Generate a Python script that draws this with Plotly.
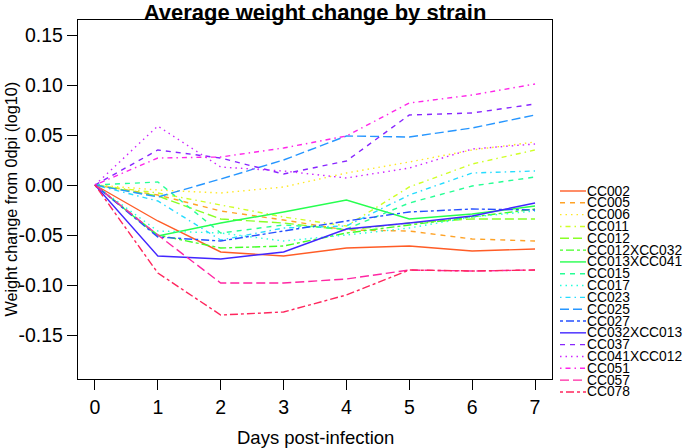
import colorsys
import plotly.graph_objects as go

days = [0, 1, 2, 3, 4, 5, 6, 7]
strains = ["CC002", "CC005", "CC006", "CC011", "CC012", "CC012XCC032", "CC013XCC041",
           "CC015", "CC017", "CC023", "CC025", "CC027", "CC032XCC013", "CC037",
           "CC041XCC012", "CC051", "CC057", "CC078"]

CC002 = [0, -0.036, -0.067, -0.071, -0.063, -0.061, -0.066, -0.064]
CC005 = [0, -0.010, -0.026, -0.035, -0.045, -0.046, -0.054, -0.056]
CC006 = [0, -0.005, -0.008, -0.002, 0.012, 0.023, 0.035, 0.043]
CC011 = [0, -0.008, -0.020, -0.032, -0.041, -0.002, 0.021, 0.035]
CC012 = [0, -0.011, -0.034, -0.038, -0.045, -0.038, -0.034, -0.034]
CC012XCC032 = [0, -0.050, -0.063, -0.061, -0.048, -0.040, -0.032, -0.024]
CC013XCC041 = [0, -0.051, -0.038, -0.027, -0.015, -0.034, -0.029, -0.021]
CC015 = [0, 0.003, -0.048, -0.040, -0.044, -0.018, -0.001, 0.008]
CC017 = [0, -0.046, -0.048, -0.056, -0.050, -0.043, -0.032, -0.026]
CC023 = [0, -0.016, -0.055, -0.043, -0.041, -0.010, 0.012, 0.014]
CC025 = [0, -0.012, 0.006, 0.025, 0.049, 0.048, 0.057, 0.070]
CC027 = [0, -0.052, -0.056, -0.046, -0.036, -0.027, -0.024, -0.025]
CC032XCC013 = [0, -0.071, -0.074, -0.067, -0.044, -0.038, -0.031, -0.018]
CC037 = [0, 0.035, 0.027, 0.011, 0.024, 0.070, 0.072, 0.081]
CC041XCC012 = [0, 0.059, 0.018, 0.014, 0.007, 0.017, 0.036, 0.041]
CC051 = [0, 0.027, 0.028, 0.037, 0.049, 0.082, 0.090, 0.101]
CC057 = [0, -0.050, -0.098, -0.098, -0.094, -0.085, -0.086, -0.085]
CC078 = [0, -0.088, -0.130, -0.127, -0.110, -0.085, -0.086, -0.085]

series = [CC002, CC005, CC006, CC011, CC012, CC012XCC032, CC013XCC041, CC015, CC017,
          CC023, CC025, CC027, CC032XCC013, CC037, CC041XCC012, CC051, CC057, CC078]

ytick_vals = [-0.15, -0.10, -0.05, 0.00, 0.05, 0.10, 0.15]
ytick_text = ["-0.15", "-0.10", "-0.05", "0.00", "0.05", "0.10", "0.15"]

# R-like line types cycling: solid, dashed, dotted, dotdash, longdash, twodash
dashes = ["solid", "5px,5px", "1.5px,4px", "1.5px,4px,5px,4px", "9px,4px", "3px,3px,8px,3px"]


def hsv_hex(h):
    r, g, b = colorsys.hsv_to_rgb(h % 1.0, 0.85, 1.0)
    return "#%02x%02x%02x" % (int(r * 255), int(g * 255), int(b * 255))


colors = [hsv_hex((15 + i * 19.4) / 360.0) for i in range(len(strains))]

font_family = "Liberation Sans, Arial, sans-serif"

fig = go.Figure()
for i, (name, vals) in enumerate(zip(strains, series)):
    fig.add_trace(go.Scatter(
        x=days, y=vals, mode="lines", name=name,
        line=dict(color=colors[i], width=1.4, dash=dashes[i % 6]),
        showlegend=False,
    ))

# Manual compact legend (R-style)
W, H = 685, 448
ml, mr, mt, mb = 78, 133, 20, 69
pw, ph = W - ml - mr, H - mt - mb
shapes = []
annotations = []
for i, name in enumerate(strains):
    py = 191 + i * 11.82
    yp = (H - mb - py) / ph
    x0 = (560 - ml) / pw
    x1 = (586 - ml) / pw
    shapes.append(dict(type="line", xref="paper", yref="paper", x0=x0, x1=x1, y0=yp, y1=yp,
                       line=dict(color=colors[i], width=1.4, dash=dashes[i % 6])))
    annotations.append(dict(text=name, xref="paper", yref="paper", x=(585 - ml) / pw, y=yp,
                            xanchor="left", yanchor="middle", showarrow=False,
                            font=dict(size=13.8, color="black", family=font_family)))

# Axis titles
annotations.append(dict(text="Days post-infection", xref="paper", yref="paper",
                        x=0.5, y=(H - mb - 437) / ph, xanchor="center", yanchor="middle",
                        showarrow=False, font=dict(size=18.5, color="black", family=font_family)))
annotations.append(dict(text="Weight change from 0dpi (log10)", xref="paper", yref="paper",
                        x=(10 - ml) / pw, y=0.5, xanchor="center", yanchor="middle", textangle=-90,
                        showarrow=False, font=dict(size=16.2, color="black", family=font_family)))

fig.update_layout(
    width=W, height=H,
    margin=dict(l=ml, r=mr, t=mt, b=mb, autoexpand=False),
    paper_bgcolor="white", plot_bgcolor="white",
    title=dict(text="<b>Average weight change by strain</b>", x=(315) / W, xanchor="center",
               y=1 - 12 / H, yanchor="middle",
               font=dict(size=22, color="black", family=font_family)),
    font=dict(family=font_family, color="black"),
    shapes=shapes,
    annotations=annotations,
    xaxis=dict(range=[-0.27, 7.27], tickvals=days, showgrid=False, zeroline=False,
               showline=True, mirror=True, linecolor="black", linewidth=1.3,
               ticks="outside", ticklen=10, tickwidth=1.2, tickcolor="black",
               tickfont=dict(size=19.5, color="black", family=font_family)),
    yaxis=dict(range=[-0.194, 0.165], tickvals=ytick_vals, ticktext=ytick_text,
               showgrid=False, zeroline=False,
               showline=True, mirror=True, linecolor="black", linewidth=1.3,
               ticks="outside", ticklen=10, tickwidth=1.2, tickcolor="black",
               tickfont=dict(size=19.5, color="black", family=font_family)),
)

fig.write_html("out.html", config={"displayModeBar": False},
               post_script="document.body.style.margin='0';document.body.style.padding='0';")
